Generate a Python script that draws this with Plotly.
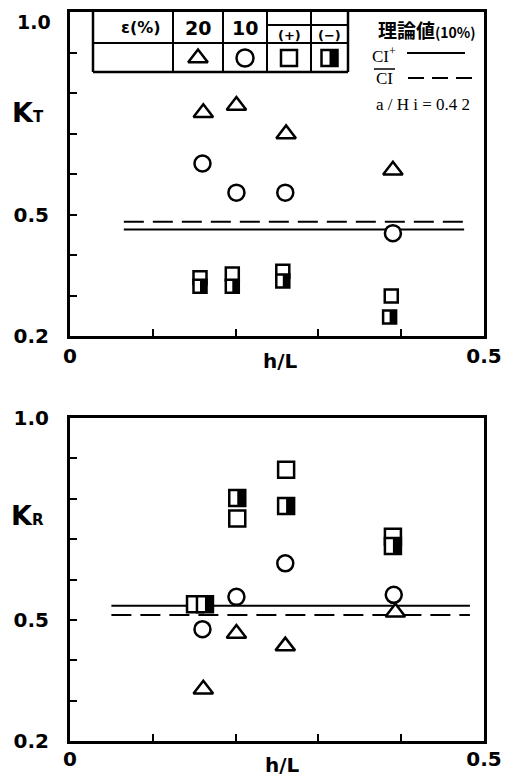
import plotly.graph_objects as go

# ---------------- data ----------------
# Upper panel: transmission coefficient K_T vs h/L
hl_tri_T = [0.161, 0.201, 0.261, 0.390]
kt_tri = [0.751, 0.769, 0.699, 0.609]
hl_cir_T = [0.160, 0.201, 0.260, 0.390]
kt_cir = [0.626, 0.554, 0.554, 0.454]
hl_sqp_T = [0.157, 0.196, 0.257, 0.388]
kt_sqp = [0.344, 0.353, 0.360, 0.299]
hl_sqm_T = [0.157, 0.196, 0.257, 0.386]
kt_sqm = [0.323, 0.323, 0.336, 0.247]
theory_x_T = [0.065, 0.476]
kt_ci_plus = [0.463, 0.463]
kt_ci_bar = [0.482, 0.482]

# Lower panel: reflection coefficient K_R vs h/L
hl_tri_R = [0.161, 0.201, 0.260, 0.393]
kr_tri = [0.328, 0.466, 0.435, 0.519]
hl_cir_R = [0.160, 0.201, 0.260, 0.391]
kr_cir = [0.477, 0.557, 0.640, 0.562]
hl_sqp_R = [0.151, 0.202, 0.261, 0.390]
kr_sqp = [0.539, 0.751, 0.872, 0.706]
hl_sqm_R = [0.163, 0.202, 0.261, 0.390]
kr_sqm = [0.539, 0.802, 0.782, 0.683]
theory_x_R = [0.050, 0.483]
kr_ci_plus = [0.535, 0.535]
kr_ci_bar = [0.512, 0.512]

# axis ticks
y_tickvals = [0.2, 0.3, 0.4, 0.5, 0.6, 0.7, 0.8, 0.9, 1.0]
y_ticktext = ["0.2", "", "", "0.5", "", "", "", "", "1.0"]
x_tickvals = [0.0, 0.1, 0.2, 0.3, 0.4, 0.5]
x_ticktext = ["0", "", "", "", "", "0.5"]

# legend table contents
eps_header = ["ε(%)", "20", "10", "(+)", "(−)"]

# ---------------- layout constants ----------------
# The page body has an 8px margin, so the figure is drawn 8px in from the
# window's top-left corner. Positions below are given in window pixels.
WIN_W, WIN_H, OFF = 511, 776, 8
W, H = WIN_W - OFF, WIN_H - OFF
PL, PR, PT, PB = 70, 484, 12, 741          # plot box in window pixels
ML, MT = PL - OFF, PT - OFF
MR, MB = WIN_W - PR, WIN_H - PB
PW = W - ML - MR
PH = H - MT - MB
BLACK = "black"
SANS = "DejaVu Sans, Liberation Sans, sans-serif"
SERIF = "Liberation Serif, DejaVu Serif, serif"


def ydom(top_px, bottom_px):
    return [(PB - bottom_px) / PH, (PB - top_px) / PH]


def px2paper(x, y):
    return (x - PL) / PW, (PB - y) / PH


fig = go.Figure()


def add_series(xa, ya, hx_tri, y_tri, hx_cir, y_cir, hx_sp, y_sp, hx_sm, y_sm,
               sq_size):
    common = dict(mode="markers", xaxis=xa, yaxis=ya, showlegend=False,
                  cliponaxis=False, hoverinfo="skip")
    fig.add_trace(go.Scatter(x=hx_tri, y=y_tri, marker=dict(
        symbol="triangle-up", size=17, color="white",
        line=dict(color=BLACK, width=2.5)), **common))
    fig.add_trace(go.Scatter(x=hx_cir, y=y_cir, marker=dict(
        symbol="circle", size=16, color="white",
        line=dict(color=BLACK, width=2.5)), **common))
    fig.add_trace(go.Scatter(x=hx_sp, y=y_sp, marker=dict(
        symbol="square", size=sq_size, color="white",
        line=dict(color=BLACK, width=2.5)), **common))
    # half-filled square: white square + black bar on the right half
    fig.add_trace(go.Scatter(x=hx_sm, y=y_sm, marker=dict(
        symbol="square", size=sq_size, color="white",
        line=dict(color=BLACK, width=2.5)), **common))
    fig.add_trace(go.Scatter(x=hx_sm, y=y_sm, marker=dict(
        symbol="line-ew", size=sq_size / 1.4, angle=-90,
        standoff=sq_size / 4, color=BLACK,
        line=dict(color=BLACK, width=sq_size / 2)), **common))


def add_theory(xa, ya, hx, y_plus, y_bar):
    fig.add_trace(go.Scatter(x=hx, y=y_plus, mode="lines", xaxis=xa, yaxis=ya,
                             line=dict(color=BLACK, width=2), showlegend=False,
                             hoverinfo="skip"))
    fig.add_trace(go.Scatter(x=hx, y=y_bar, mode="lines", xaxis=xa, yaxis=ya,
                             line=dict(color=BLACK, width=2, dash="20px,9px"),
                             showlegend=False, hoverinfo="skip"))


add_theory("x", "y", theory_x_T, kt_ci_plus, kt_ci_bar)
add_series("x", "y", hl_tri_T, kt_tri, hl_cir_T, kt_cir,
           hl_sqp_T, kt_sqp, hl_sqm_T, kt_sqm, 13)
add_theory("x2", "y2", theory_x_R, kr_ci_plus, kr_ci_bar)
add_series("x2", "y2", hl_tri_R, kr_tri, hl_cir_R, kr_cir,
           hl_sqp_R, kr_sqp, hl_sqm_R, kr_sqm, 16)

# legend glyphs in a window-pixel overlay axis
glyph_x = [198, 245, 289, 329.5]
glyph_y = 58
gcommon = dict(mode="markers", xaxis="x3", yaxis="y3", showlegend=False,
               cliponaxis=False, hoverinfo="skip")
fig.add_trace(go.Scatter(x=[glyph_x[0]], y=[glyph_y], marker=dict(
    symbol="triangle-up", size=17, color="white",
    line=dict(color=BLACK, width=2.5)), **gcommon))
fig.add_trace(go.Scatter(x=[glyph_x[1]], y=[glyph_y], marker=dict(
    symbol="circle", size=17, color="white",
    line=dict(color=BLACK, width=2.5)), **gcommon))
fig.add_trace(go.Scatter(x=[glyph_x[2]], y=[glyph_y], marker=dict(
    symbol="square", size=16, color="white",
    line=dict(color=BLACK, width=2.5)), **gcommon))
fig.add_trace(go.Scatter(x=[glyph_x[3]], y=[glyph_y], marker=dict(
    symbol="square", size=16, color="white",
    line=dict(color=BLACK, width=2.5)), **gcommon))
fig.add_trace(go.Scatter(x=[glyph_x[3]], y=[glyph_y], marker=dict(
    symbol="line-ew", size=16 / 1.4, angle=-90, standoff=4, color=BLACK,
    line=dict(color=BLACK, width=8)), **gcommon))

axis_common = dict(showgrid=False, zeroline=False, showline=True,
                   linecolor=BLACK, linewidth=3, mirror=True, ticks="inside",
                   ticklen=7, tickwidth=2, tickcolor=BLACK, automargin=False,
                   ticklabeloverflow="allow")
tfont = dict(family=SANS, size=20, color=BLACK, weight="bold")

# the top panel's "1.0" sits at the very window edge: draw it as a text
# nudged slightly down so that it is not clipped
y_ticktext_top = [t if v < 1.0 else "" for v, t in zip(y_tickvals, y_ticktext)]

fig.update_layout(
    template="none",
    width=W, height=H,
    margin=dict(l=ML, r=MR, t=MT, b=MB, autoexpand=False),
    paper_bgcolor="white", plot_bgcolor="rgba(0,0,0,0)",
    showlegend=False,
    xaxis=dict(domain=[0, 1], range=[0, 0.5], anchor="y",
               tickvals=x_tickvals, ticktext=x_ticktext, tickfont=tfont,
               ticklabelstandoff=0, **axis_common),
    yaxis=dict(domain=ydom(12, 336), range=[0.2, 1.0], anchor="x",
               tickvals=y_tickvals, ticktext=y_ticktext_top, tickfont=tfont,
               ticklabelstandoff=14, **axis_common),
    xaxis2=dict(domain=[0, 1], range=[0, 0.5], anchor="y2",
                tickvals=x_tickvals, ticktext=x_ticktext, tickfont=tfont,
                ticklabelstandoff=-2, **axis_common),
    yaxis2=dict(domain=ydom(418, 741), range=[0.2, 1.0], anchor="x2",
                tickvals=y_tickvals, ticktext=y_ticktext, tickfont=tfont,
                ticklabelstandoff=14, **axis_common),
    xaxis3=dict(domain=[0, 1], range=[PL, PR], anchor="y3", visible=False,
                automargin=False),
    yaxis3=dict(domain=[0, 1], range=[PB, PT], anchor="x3", visible=False,
                automargin=False),
)

shapes = []


def pline(x0, y0, x1, y1, width=2, dash=None):
    d = dict(type="line", xref="x3", yref="y3", x0=x0, y0=y0, x1=x1, y1=y1,
             line=dict(color=BLACK, width=width))
    if dash:
        d["line"]["dash"] = dash
    shapes.append(d)


# legend table grid
pline(93, 12, 93, 72, 2.5)
pline(348, 12, 348, 72, 2.5)
pline(93, 72, 348, 72, 2.5)
pline(93, 43, 348, 43, 2)
for vx in [173, 223, 267, 311]:
    pline(vx, 12, vx, 72, 2)
pline(267, 25, 348, 25, 2)
# theory legend line samples
pline(407, 53, 465, 53, 2)
pline(408, 78, 472, 78, 2, dash="16px,8px")
# overline for the second CI
pline(374, 69, 395, 69, 1.5)
fig.update_layout(shapes=shapes)

ann = []


def ptext(x, y, text, size, family=SANS, bold=True, xanchor="center",
          yanchor="middle"):
    px, py = px2paper(x, y)
    ann.append(dict(xref="paper", yref="paper", x=px, y=py, text=text,
                    showarrow=False, xanchor=xanchor, yanchor=yanchor,
                    font=dict(family=family, size=size, color=BLACK,
                              weight="bold" if bold else "normal")))


ptext(53, 9, y_ticktext[-1], 19, xanchor="right", yanchor="top")
ptext(141, 28, eps_header[0], 16)
ptext(198, 28, eps_header[1], 19)
ptext(245, 28, eps_header[2], 19)
ptext(289, 35, eps_header[3], 13)
ptext(329.5, 35, eps_header[4], 13)
ptext(478, 29, "理論値<span style='font-size:14px'>(10%)</span>", 19,
      family="Noto Sans CJK JP", xanchor="right")
ptext(384, 55, "CI<sup>+</sup>", 17, family=SERIF, bold=False)
ptext(384, 78, "CI", 17, family=SERIF, bold=False)
ptext(472, 105, "a / H i = 0.4 2", 17, family=SERIF, bold=False,
      xanchor="right")

# axis titles
ptext(28, 113, "K<span style='font-size:15px'>T</span>", 27)
ptext(27, 515, "K<span style='font-size:15px'>R</span>", 27)
ptext(280, 361, "h/L", 20)
ptext(282, 765, "h/L", 20)
fig.update_layout(annotations=ann)

fig.write_html("out.html")
